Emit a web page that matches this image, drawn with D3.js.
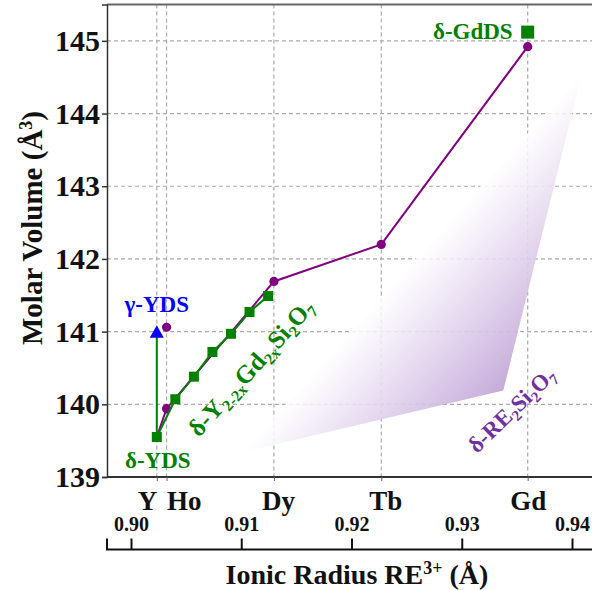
<!DOCTYPE html>
<html>
<head>
<meta charset="utf-8">
<script src="https://cdn.jsdelivr.net/npm/d3@7"></script>
<style>
  html, body { margin: 0; padding: 0; background: #fff; }
  svg { display: block; font-family: "Liberation Serif", "Times New Roman", serif; font-weight: bold; }
</style>
</head>
<body>
<svg id="chart" width="592" height="590"></svg>
<script>
// Element labels on the main radius axis
const elements = ["Y", "Ho", "Dy", "Tb", "Gd"];
const elementRadius = [0.900, 0.901, 0.912, 0.923, 0.938];

// Secondary radius axis ticks
const radiusTicks = [0.90, 0.91, 0.92, 0.93, 0.94];
const volumeTicks = [139, 140, 141, 142, 143, 144, 145];

// δ-RE2Si2O7 molar volumes across the rare earths
const reRadius = [0.900, 0.901, 0.912, 0.923, 0.938];
const reVolume = [139.55, 139.94, 141.69, 142.20, 144.92];

// Additional Ho point
const hoRadius = [0.901];
const hoVolume = [141.06];

// δ-Y(2-2x)Gd(2x)Si2O7 solid solution
const ssRadius = [0.9000, 0.9019, 0.9038, 0.9057, 0.9076, 0.9095, 0.9114];
const ssVolume = [139.55, 140.07, 140.38, 140.72, 140.97, 141.27, 141.49];

// γ-YDS and δ-GdDS reference points
const gammaRadius = [0.900];
const gammaVolume = [140.99];
const gdRadius = [0.938];
const gdVolume = [145.12];

// Shaded δ-RE2Si2O7 trend band (triangle corners)
const bandRadius = [0.9088, 0.9355, 0.9436];
const bandVolume = [139.34, 140.19, 144.57];

const svg = d3.select("#chart");
const plotLeft = 107, plotTop = 4.5, plotBottom = 477;

const x = d3.scaleLinear().domain([0.895, 0.945]).range([108, 596]);
const y = d3.scaleLinear().domain([139, 145.5]).range([plotBottom, plotTop]);
const x2 = d3.scaleLinear().domain([0.90, 0.94]).range([131, 572]);

const purple = "#800080", green = "#008000", blue = "#0000ff";

// gradient for the band
const defs = svg.append("defs");
const bp = bandRadius.map((r, i) => [x(r), y(bandVolume[i])]);
// gradient runs from the A–C edge toward corner B
const A = bp[0], B = bp[1], C = bp[2];
const ux = C[0] - A[0], uy = C[1] - A[1];
const L = Math.hypot(ux, uy);
const t = ((B[0] - A[0]) * ux + (B[1] - A[1]) * uy) / L;
const foot = [A[0] + t * ux / L, A[1] + t * uy / L];
const grad = defs.append("linearGradient").attr("id", "bandGrad")
  .attr("gradientUnits", "userSpaceOnUse")
  .attr("x1", foot[0]).attr("y1", foot[1]).attr("x2", B[0]).attr("y2", B[1]);
grad.append("stop").attr("offset", "0%").attr("stop-color", "#ffffff").attr("stop-opacity", 0.85);
grad.append("stop").attr("offset", "100%").attr("stop-color", "#c2a7d8").attr("stop-opacity", 0.95);

// grid
const grid = svg.append("g").attr("stroke", "#aaaaaa").attr("stroke-width", 1.2).attr("stroke-dasharray", "4,3");
grid.selectAll("line.h").data(volumeTicks.filter(v => v > 139)).join("line")
  .attr("x1", plotLeft).attr("x2", 592).attr("y1", d => y(d)).attr("y2", d => y(d));
grid.selectAll("line.v").data(elementRadius).join("line")
  .attr("x1", d => x(d)).attr("x2", d => x(d)).attr("y1", plotTop).attr("y2", plotBottom);

// band
svg.append("path")
  .attr("d", d3.line()(bp) + "Z")
  .attr("fill", "url(#bandGrad)");

// frame
const frame = svg.append("g").attr("fill", "none");
frame.append("line").attr("x1", plotLeft).attr("x2", 600).attr("y1", plotTop).attr("y2", plotTop).attr("stroke", "#666").attr("stroke-width", 2);
frame.append("line").attr("x1", plotLeft).attr("x2", 600).attr("y1", plotBottom).attr("y2", plotBottom).attr("stroke", "#333").attr("stroke-width", 2);

// left axis
const yAxis = svg.append("g").attr("transform", `translate(${plotLeft},0)`)
  .call(d3.axisLeft(y).tickValues(volumeTicks).tickFormat(d3.format("d")).tickSize(5).tickPadding(2));
yAxis.select(".domain").attr("stroke", "#333").attr("stroke-width", 1.5);
yAxis.selectAll(".tick line").attr("stroke", "#333").attr("stroke-width", 1.5);
yAxis.selectAll("text").attr("font-size", 30).attr("font-family", "Liberation Serif").attr("font-weight", "bold").attr("fill", "#111");

// element axis under the frame
const eAxis = svg.append("g").attr("transform", `translate(0,${plotBottom})`)
  .call(d3.axisBottom(x).tickValues(elementRadius).tickFormat((d, i) => elements[i]).tickSize(4).tickPadding(10));
eAxis.select(".domain").remove();
eAxis.selectAll(".tick line").attr("stroke", "#666");
eAxis.selectAll("text").attr("font-size", 27).attr("font-family", "Liberation Serif").attr("font-weight", "bold").attr("fill", "#111")
  .attr("text-anchor", (d, i) => i === 0 ? "end" : (i === 1 ? "start" : "middle"))
  .attr("dx", (d, i) => i === 0 ? 0 : (i === 1 ? 0 : (i === 2 ? 4 : (i === 3 ? 4 : 0))));

// secondary ionic radius axis
const axisY = 549.5;
const rAxis = svg.append("g").attr("transform", `translate(0,${axisY})`)
  .call(d3.axisTop(x2).tickValues(radiusTicks).tickFormat(d3.format(".2f")).tickSize(11).tickPadding(8));
rAxis.select(".domain").remove();
rAxis.selectAll(".tick line").attr("stroke", "#111").attr("stroke-width", 2);
rAxis.selectAll("text").attr("font-size", 20).attr("font-family", "Liberation Serif").attr("font-weight", "bold").attr("fill", "#111");
svg.append("path")
  .attr("d", `M${plotLeft},${axisY - 11}V${axisY}H600`)
  .attr("fill", "none").attr("stroke", "#111").attr("stroke-width", 2);

// δ-RE2Si2O7 line
const line = d3.line();
svg.append("path")
  .attr("d", line(reRadius.map((r, i) => [x(r), y(reVolume[i])])))
  .attr("fill", "none").attr("stroke", purple).attr("stroke-width", 2);
svg.selectAll("circle.re").data(reRadius.slice(1)).join("circle")
  .attr("cx", d => x(d)).attr("cy", (d, i) => y(reVolume[i + 1])).attr("r", 4.6).attr("fill", purple);
svg.selectAll("circle.ho").data(hoRadius).join("circle")
  .attr("cx", d => x(d)).attr("cy", (d, i) => y(hoVolume[i])).attr("r", 4.6).attr("fill", purple);

// γ → δ YDS link
svg.append("line")
  .attr("x1", x(gammaRadius[0])).attr("x2", x(ssRadius[0]))
  .attr("y1", y(gammaVolume[0])).attr("y2", y(ssVolume[0]))
  .attr("stroke", green).attr("stroke-width", 2);

// solid solution
svg.append("path")
  .attr("d", line(ssRadius.map((r, i) => [x(r), y(ssVolume[i])])))
  .attr("fill", "none").attr("stroke", green).attr("stroke-width", 2);
svg.selectAll("rect.ss").data(ssRadius).join("rect")
  .attr("x", d => x(d) - 5).attr("y", (d, i) => y(ssVolume[i]) - 5)
  .attr("width", 10).attr("height", 10).attr("fill", green);

// δ-GdDS
svg.selectAll("rect.gd").data(gdRadius).join("rect")
  .attr("x", d => x(d) - 6.5).attr("y", (d, i) => y(gdVolume[i]) - 6.5)
  .attr("width", 13).attr("height", 13).attr("fill", green);

// γ-YDS triangle
svg.selectAll("path.gamma").data(gammaRadius).join("path")
  .attr("transform", (d, i) => `translate(${x(d)},${y(gammaVolume[i])})`)
  .attr("d", "M0,-7L7,5.5L-7,5.5Z").attr("fill", blue);

// labels
const label = (xx, yy, color, anchor, size) => svg.append("text")
  .attr("x", xx).attr("y", yy).attr("fill", color).attr("text-anchor", anchor)
  .attr("font-size", size).attr("font-weight", "bold");

label(x(gammaRadius[0]), 312, blue, "middle", 23).text("γ-YDS");
label(x(ssRadius[0]) + 1, 468, green, "middle", 23).text("δ-YDS");
label(x(gdRadius[0]) - 15, 38.5, green, "end", 23).text("δ-GdDS");

function chem(g, parts, subSize) {
  parts.forEach(p => {
    const ts = g.append("tspan").text(p[0]);
    if (p[1]) ts.attr("font-size", subSize).attr("baseline-shift", "-30%");
  });
}

const ssLabel = svg.append("text")
  .attr("transform", "translate(199,438) rotate(-48)")
  .attr("fill", green).attr("font-size", 25).attr("font-weight", "bold");
chem(ssLabel, [["δ-Y"], ["2-2x", 1], ["Gd"], ["2x", 1], ["Si"], ["2", 1], ["O"], ["7", 1]], 16);

const reLabel = svg.append("text")
  .attr("transform", "translate(477,454) rotate(-44)")
  .attr("fill", "#7030a0").attr("font-size", 23).attr("font-weight", "bold");
chem(reLabel, [["δ-RE"], ["2", 1], ["Si"], ["2", 1], ["O"], ["7", 1]], 15);

// axis titles
const yTitle = svg.append("text")
  .attr("transform", "translate(42,228) rotate(-90)")
  .attr("text-anchor", "middle").attr("font-size", 29).attr("fill", "#111");
yTitle.append("tspan").text("Molar Volume (Å");
yTitle.append("tspan").text("3").attr("font-size", 18).attr("baseline-shift", "super");
yTitle.append("tspan").text(")");

const xTitle = svg.append("text")
  .attr("x", 357).attr("y", 584)
  .attr("text-anchor", "middle").attr("font-size", 28).attr("fill", "#111");
xTitle.append("tspan").text("Ionic Radius RE");
xTitle.append("tspan").text("3+").attr("font-size", 18).attr("baseline-shift", "super");
xTitle.append("tspan").text(" (Å)");
</script>
</body>
</html>
